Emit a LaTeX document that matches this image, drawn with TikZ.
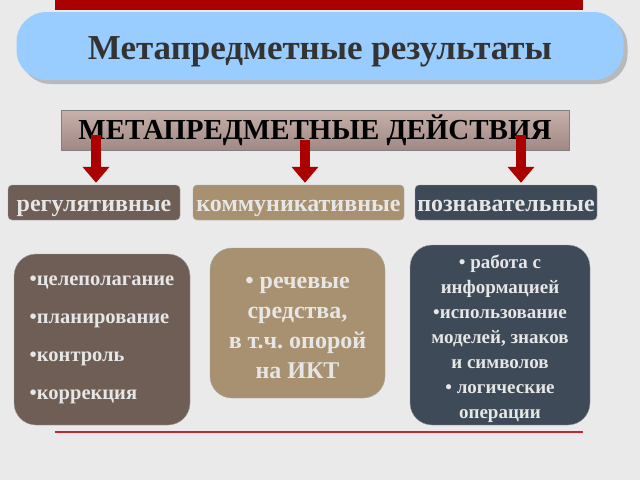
\documentclass[tikz,border=0pt]{standalone}
\usepackage{fontspec}
\setmainfont{Liberation Serif}
\usetikzlibrary{arrows.meta,shadows}

\definecolor{bgray}{HTML}{EAEAEA}
\definecolor{barred}{HTML}{AA0000}
\definecolor{linered}{HTML}{C0282D}
\definecolor{titleblue}{HTML}{99CCFF}
\definecolor{titletext}{HTML}{333333}
\definecolor{acttop}{HTML}{C8B0AB}
\definecolor{actbottom}{HTML}{A08884}
\definecolor{regcol}{HTML}{6E5E55}
\definecolor{kommcol}{HTML}{A89170}
\definecolor{pozncol}{HTML}{3E4A58}
\definecolor{lighttext}{HTML}{E6E6E6}

\begin{document}
\begin{tikzpicture}[x=1pt, y=-1pt,
	catbox/.style={draw=gray!70, rounded corners=4pt, minimum height=35pt,
		text height=17pt, text depth=0pt,
		text=lighttext, font=\bfseries\fontsize{24}{26}\selectfont, inner sep=0pt},
	listbox/.style={draw=gray!70, rounded corners=22pt, inner sep=0pt},
	listtext/.style={text=lighttext, inner sep=0pt},
	redarrow/.style={draw=barred, line width=10pt, -{Triangle[width=26pt,length=16pt]}, shorten >=2pt}
	]
	\useasboundingbox (0,0) rectangle (640,480);
	\fill [bgray] (0,0) rectangle (640,480);
	\fill [barred] (55,0) rectangle (583,10);

	\node (title) at (320,46) [fill=titleblue, rounded corners=30pt, minimum width=607pt, minimum height=68pt,
		drop shadow={shadow xshift=4pt, shadow yshift=-4pt, fill=gray!55, opacity=1},
		text height=27pt, text depth=0pt,
		text=titletext, font=\bfseries\fontsize{35}{38}\selectfont]{Метапредметные результаты};

	\node (act) at (315,130) [draw=gray, top color=acttop, bottom color=actbottom,
		minimum width=508pt, minimum height=40pt, inner sep=0pt,
		font=\bfseries\fontsize{29}{32}\selectfont]{МЕТАПРЕДМЕТНЫЕ ДЕЙСТВИЯ};

	\node (reg) at (94,202.5) [catbox, fill=regcol, minimum width=172pt]{регулятивные};
	\node (komm) at (298.5,202.5) [catbox, fill=kommcol, minimum width=211pt]{коммуникативные};
	\node (pozn) at (506,202.5) [catbox, fill=pozncol, minimum width=182pt]{познавательные};

	\draw [redarrow] ([yshift=15pt]act.south -| 96,0) -- (reg.north -| 96,0);
	\draw [redarrow] ([yshift=10pt]act.south -| 305,0) -- (komm.north -| 305,0);
	\draw [redarrow] ([yshift=15pt]act.south -| 521,0) -- (pozn.north -| 521,0);

	\node (regl) at (102,339.5) [listbox, fill=regcol, minimum width=176pt, minimum height=171pt]{};
	\node (kommt) at (297.5,323) [listbox, fill=kommcol, minimum width=175pt, minimum height=150pt]{};
	\node (poznt) at (500,335) [listbox, fill=pozncol, minimum width=180pt, minimum height=180pt]{};

	\node (regl-text) at (regl.center) [listtext, align=left,
		font=\bfseries\fontsize{20.5}{38}\selectfont]
		{•целеполагание \\ •планирование \\ •контроль \\ •коррекция};
	\node (kommt-text) at ([yshift=-5pt]kommt.center) [listtext, align=center,
		font=\bfseries\fontsize{24}{30}\selectfont]
		{• речевые \\ средства, \\ в т.ч.\ опорой \\ на ИКТ};
	\node (poznt-text) at ([yshift=-4pt]poznt.center) [listtext, align=center,
		font=\bfseries\fontsize{19}{25}\selectfont]
		{• работа с \\ информацией \\ •использование \\ моделей, знаков \\ и символов \\ • логические \\ операции};

	\draw [linered, line width=2pt] (55,432) -- (583,432);
\end{tikzpicture}
\end{document}
